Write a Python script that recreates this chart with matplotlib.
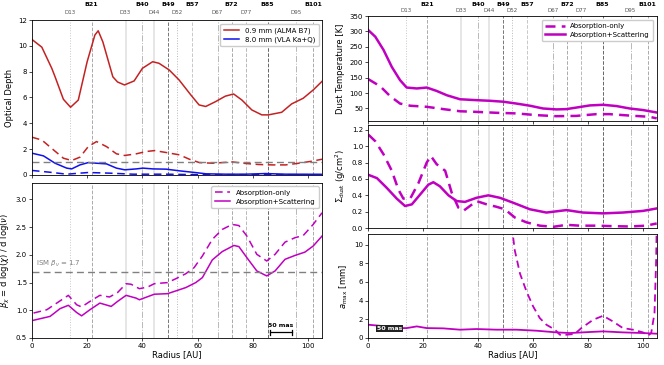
import numpy as np
import matplotlib
matplotlib.use('Agg')
import matplotlib.pyplot as plt

plt.rcParams.update({'font.size': 5, 'font.family': 'DejaVu Sans',
                     'axes.linewidth': 0.6, 'xtick.major.width': 0.5,
                     'ytick.major.width': 0.5, 'xtick.major.size': 2,
                     'ytick.major.size': 2})

# ring / gap positions (AU)
feat_names = ['D13', 'B21', 'D33', 'B40', 'D44', 'B49', 'D52', 'B57',
              'D67', 'B72', 'D77', 'B85', 'D95', 'B101']
feat_r = [13.8, 21.6, 33.9, 40.0, 44.1, 49.2, 52.5, 57.9,
          67.2, 72.3, 77.5, 85.3, 95.5, 101.7]
feat_style = [':', '--', '-', '-.', '-', '--', ':', '--',
              '-.', '--', '--', '--', '-.', '--']
feat_color = ['#c8c8c8', '#aaaaaa', '#e2e2e2', '#b8b8b8', '#e2e2e2', '#777777', '#b8b8b8', '#c8c8c8',
              '#b8b8b8', '#aaaaaa', '#b8b8b8', '#666666', '#b8b8b8', '#aaaaaa']

# optical depth
r_tau = [0, 3.6, 7.2, 8.4, 11.4, 14, 16.8, 20, 22.8, 24, 25.7, 29.3, 31, 33.5, 37, 40,
         43.7, 46, 49.7, 53.3, 57.5, 60.5, 62.9, 66.5, 70, 73, 76, 79.6, 83.2, 85.6,
         90.4, 94, 98.2, 101.8, 105]
tau_b7_abs = [10.5, 9.9, 8.26, 7.6, 5.86, 5.24, 5.8, 8.77, 10.84, 11.17, 10.3, 7.6, 7.2,
              6.97, 7.28, 8.26, 8.77, 8.65, 8.13, 7.35, 6.2, 5.42, 5.3, 5.68, 6.1, 6.27,
              5.8, 5.03, 4.65, 4.65, 4.85, 5.5, 5.94, 6.58, 7.25]
r_tau2 = [0, 3.6, 7.8, 11.4, 14.4, 17.4, 20.4, 23.4, 27, 30.6, 33.6, 37.8, 41.4, 44.4,
          48.6, 53.4, 57, 60.6, 65.4, 69, 72.6, 77.4, 82.2, 87, 91.8, 96.6, 101.4, 105]
tau_b7_sca = [2.92, 2.7, 1.94, 1.29, 1.11, 1.37, 2.19, 2.58, 2.19, 1.63, 1.5, 1.63, 1.81,
              1.88, 1.73, 1.55, 1.21, 0.95, 0.9, 0.95, 1.0, 0.88, 0.8, 0.77, 0.77, 0.9,
              1.06, 1.21]
r_tau3 = [0, 4.2, 8.4, 12.6, 14.4, 17.4, 20.4, 23.4, 27, 30.6, 33.6, 37.8, 40.2, 43.8,
          48.6, 53.4, 58.2, 63, 70.2, 77.4, 84.6, 91.8, 105]
tau_q_abs = [1.68, 1.47, 0.9, 0.52, 0.46, 0.77, 0.95, 0.9, 0.85, 0.52, 0.39, 0.46, 0.52,
             0.46, 0.44, 0.31, 0.2, 0.08, 0.05, 0.05, 0.1, 0.05, 0.04]
r_tau4 = [0, 6.6, 12.6, 20.4, 28.2, 36.6, 48.6, 60.6, 105]
tau_q_sca = [0.34, 0.2, 0.05, 0.18, 0.13, 0.05, 0.05, 0.01, 0.01]

# spectral index
r_beta = [0.6, 5.4, 9, 13.2, 16.2, 18, 21, 24.6, 28.1, 31, 34.1, 35.9, 38.9, 41.9, 44.3,
          49.1, 52.1, 55.7, 58.7, 61.7, 65.3, 68.9, 72.5, 74.9, 77.8, 81.4, 85, 88,
          91.6, 95.2, 98.2, 101.8, 105]
beta_abs = [0.95, 1.01, 1.13, 1.27, 1.1, 1.06, 1.16, 1.27, 1.24, 1.32, 1.48, 1.47, 1.39,
            1.42, 1.48, 1.5, 1.57, 1.66, 1.77, 1.98, 2.28, 2.46, 2.55, 2.53, 2.34, 2.01,
            1.89, 2.01, 2.23, 2.31, 2.35, 2.55, 2.76]
r_beta2 = [0.6, 6.6, 10.2, 13.2, 16.2, 18, 21, 24.6, 28.7, 31, 34.1, 37.7, 38.9, 44.3,
           49.1, 52.1, 55.7, 59.3, 61.7, 65.3, 68.9, 73.1, 74.9, 77.8, 81.4, 85, 88,
           91.6, 95.2, 98.8, 101.8, 105]
beta_sca = [0.82, 0.89, 1.03, 1.09, 0.96, 0.9, 1.01, 1.13, 1.07, 1.16, 1.27, 1.22, 1.19,
            1.29, 1.3, 1.35, 1.41, 1.5, 1.59, 1.91, 2.06, 2.17, 2.15, 1.95, 1.71, 1.62,
            1.71, 1.92, 1.99, 2.05, 2.16, 2.34]

# dust temperature
r_T = [0.2, 2.7, 5.7, 8.7, 11.7, 14.1, 17.8, 21.4, 25, 28.7, 33.5, 39.5, 44.4, 49.2, 54,
       58.9, 63.7, 68.6, 72.2, 75.8, 80.7, 85.5, 90.3, 95.2, 100, 105]
T_sca = [304, 283, 240, 185, 142, 118, 115, 118, 107, 93, 80, 77, 75, 72, 66, 59, 50, 47,
         48, 53, 60, 62, 58, 50, 45, 37]
r_T2 = [0.2, 4.5, 8.1, 11.7, 15.4, 21.4, 27.4, 33.5, 39.5, 46.8, 54, 61.3, 68.6, 75.8,
        83, 87.9, 95.2, 102.4, 105]
T_abs = [145, 122, 90, 66, 59, 55.5, 48, 41, 39, 36, 34, 28.4, 25, 26, 31.6, 31.6, 27,
         23, 18]

# dust surface density
r_sig = [0.2, 2.7, 5.7, 8.7, 11.1, 12.9, 15.4, 18.4, 21.4, 22.9, 25, 28.1, 30.5, 32.9,
         34.7, 37.1, 39.5, 43.2, 46.8, 49.8, 53.4, 57.7, 62.5, 67.4, 72.2, 77, 83, 89.1,
         95.2, 101.2, 105]
sig_abs = [1.14, 1.06, 0.9, 0.7, 0.47, 0.36, 0.36, 0.55, 0.8, 0.88, 0.78, 0.7, 0.43, 0.25,
           0.21, 0.27, 0.33, 0.29, 0.26, 0.23, 0.13, 0.07, 0.03, 0.016, 0.04, 0.03, 0.03,
           0.024, 0.02, 0.03, 0.057]
r_sig2 = [0.2, 3.3, 6.9, 10.5, 13.5, 16, 19, 22, 23.8, 26.2, 29.3, 32.3, 35.3, 39.5, 43.8,
          48, 52.8, 58.9, 64.9, 72.2, 78.2, 85.5, 92.7, 100, 105]
sig_sca = [0.65, 0.61, 0.49, 0.36, 0.27, 0.29, 0.41, 0.53, 0.56, 0.51, 0.4, 0.33, 0.32,
           0.37, 0.4, 0.37, 0.31, 0.23, 0.19, 0.22, 0.19, 0.18, 0.19, 0.21, 0.24]

# maximum grain size
r_a = [0.2, 6.9, 10.5, 14.1, 17.8, 21.4, 27.4, 33.5, 39.5, 46.8, 54, 61.3, 68.6, 73.4,
       80.7, 85.5, 92.7, 100, 105]
a_sca = [1.42, 1.24, 1.06, 1.06, 1.24, 1.06, 1.03, 0.89, 0.96, 0.89, 0.89, 0.78, 0.6,
         0.53, 0.64, 0.71, 0.6, 0.53, 0.46]
r_a2 = [52.3, 53.4, 55.3, 57.7, 60.1, 62.5, 64.9, 68, 69.8, 72.2, 75.2, 77.6, 81.9, 85.5,
        89.1, 92.7, 96.4, 100, 101.8, 103, 104.2, 104.8, 105]
a_abs = [12, 9.4, 6.9, 4.96, 3.37, 2.13, 1.42, 0.89, 0.35, 0.35, 0.43, 1.06, 1.95, 2.38,
         1.77, 1.06, 0.89, 0.6, 0.25, 0.53, 2.66, 8.3, 12]

red = '#c42222'
blue = '#1010ee'
mag = '#c000c0'
xmax = 105

fig = plt.figure(figsize=(6.64, 3.65), dpi=100)
ax1 = fig.add_axes([0.048, 0.521, 0.437, 0.424])
ax2 = fig.add_axes([0.048, 0.074, 0.437, 0.425])
ax3 = fig.add_axes([0.554, 0.669, 0.435, 0.287])
ax4 = fig.add_axes([0.554, 0.375, 0.435, 0.283])
ax5 = fig.add_axes([0.554, 0.074, 0.435, 0.284])

for ax in [ax1, ax2, ax3, ax4, ax5]:
    for r, ls, c in zip(feat_r, feat_style, feat_color):
        ax.axvline(r, color=c, ls=ls, lw=0.7 if ls != '-' else 1.2, zorder=0)
    ax.set_xlim(0, xmax)
    ax.tick_params(labelsize=5, pad=1.5)

# labels of rings and gaps
for ax, db, dd in [(ax1, 13, 5), (ax3, 9, 3)]:
    for name, r in zip(feat_names, feat_r):
        if name[0] == 'B':
            ax.annotate(name, (r, 1), xycoords=('data', 'axes fraction'),
                        xytext=(0, db), textcoords='offset pixels', ha='center',
                        va='bottom', fontsize=4.5, fontweight='bold')
        else:
            ax.annotate(name, (r, 1), xycoords=('data', 'axes fraction'),
                        xytext=(0, dd), textcoords='offset pixels', ha='center',
                        va='bottom', fontsize=4, color='#555555')

# optical depth panel
ax1.plot(r_tau, tau_b7_abs, color=red, lw=1.1, label='0.9 mm (ALMA B7)')
ax1.plot(r_tau2, tau_b7_sca, color=red, lw=1.1, ls='--', dashes=(5, 3))
ax1.plot(r_tau3, tau_q_abs, color=blue, lw=1.1, label='8.0 mm (VLA Ka+Q)')
ax1.plot(r_tau4, tau_q_sca, color=blue, lw=1.1, ls='--', dashes=(5, 3))
ax1.axhline(1.0, color='gray', ls='--', dashes=(5, 3), lw=1.0)
ax1.set_ylim(0, 12)
ax1.set_yticks(range(0, 13, 2))
ax1.set_xticklabels([])
ax1.set_ylabel('Optical Depth', fontsize=6, labelpad=3)
ax1.legend(loc='upper right', fontsize=5, framealpha=1, handlelength=2.2,
           borderpad=0.5, labelspacing=0.4)

# spectral index panel
ax2.plot(r_beta, beta_abs, color=mag, lw=1.1, ls='--', dashes=(5, 3), label='Absorption-only')
ax2.plot(r_beta2, beta_sca, color=mag, lw=1.1, label='Absorption+Scattering')
ax2.axhline(1.7, color='gray', ls='--', dashes=(5, 3), lw=1.0)
ax2.text(1.5, 1.74, r'ISM $\beta_\nu$ = 1.7', color='gray', fontsize=5, va='bottom')
ax2.set_ylim(0.5, 3.3)
ax2.set_yticks([0.5, 1.0, 1.5, 2.0, 2.5, 3.0])
ax2.set_xlabel('Radius [AU]', fontsize=6, labelpad=1)
ax2.set_ylabel(r'$\beta_\chi$ = d log($\chi$) / d log($\nu$)', fontsize=6, labelpad=3)
ax2.legend(loc='upper right', fontsize=5, framealpha=1, handlelength=2.2,
           borderpad=0.5, labelspacing=0.4)
ax2.plot([86, 94], [0.6, 0.6], color='black', lw=0.9)
ax2.plot([86, 86], [0.56, 0.64], color='black', lw=0.9)
ax2.plot([94, 94], [0.56, 0.64], color='black', lw=0.9)
ax2.text(90, 0.68, '50 mas', ha='center', va='bottom', fontsize=4.5, fontweight='bold')

# dust temperature panel
ax3.plot(r_T2, T_abs, color=mag, lw=1.8, ls='--', dashes=(4, 2.5), label='Absorption-only')
ax3.plot(r_T, T_sca, color=mag, lw=1.8, label='Absorption+Scattering')
ax3.set_ylim(10, 350)
ax3.set_yticks(range(50, 351, 50))
ax3.set_xticklabels([])
ax3.set_ylabel('Dust Temperature [K]', fontsize=6, labelpad=3)
ax3.legend(loc='upper right', fontsize=5, framealpha=1, handlelength=2.8,
           borderpad=0.5, labelspacing=0.4)

# dust surface density panel
ax4.plot(r_sig, sig_abs, color=mag, lw=1.8, ls='--', dashes=(4, 2.5))
ax4.plot(r_sig2, sig_sca, color=mag, lw=1.8)
ax4.set_ylim(0, 1.26)
ax4.set_yticks([0.0, 0.2, 0.4, 0.6, 0.8, 1.0, 1.2])
ax4.set_xticklabels([])
ax4.set_ylabel(r'$\Sigma_{\rm dust}$ (g/cm$^2$)', fontsize=6, labelpad=3)

# maximum grain size panel
ax5.plot(r_a2, a_abs, color=mag, lw=1.3, ls='--', dashes=(4, 2.5))
ax5.plot(r_a, a_sca, color=mag, lw=1.3)
ax5.set_ylim(0, 11.1)
ax5.set_yticks(range(0, 11, 2))
ax5.set_xlabel('Radius [AU]', fontsize=6, labelpad=1)
ax5.set_ylabel(r'$a_{\rm max}$ [mm]', fontsize=6, labelpad=3)
ax5.text(8, 1.0, '50 mas', ha='center', va='center', fontsize=4.5, fontweight='bold',
         color='white', bbox=dict(boxstyle='square,pad=0.15', fc='#222222', ec='none'))

fig.savefig('out.png', dpi=100)
